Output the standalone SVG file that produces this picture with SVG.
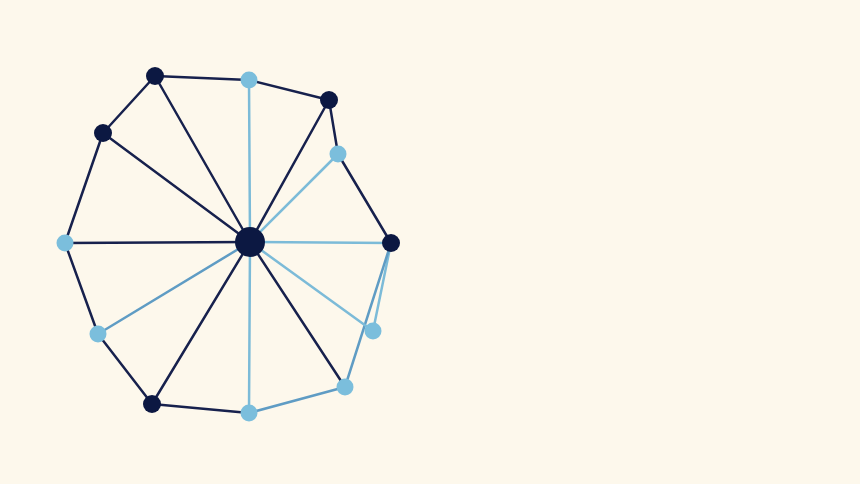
<svg xmlns="http://www.w3.org/2000/svg" width="860" height="484" viewBox="0 0 860 484">
<style>
.d{stroke:#17214d;stroke-width:2.5;stroke-linecap:round}
.l{stroke:#7cbbd8;stroke-width:2.5;stroke-linecap:round}
.m{stroke:#5f9cc4;stroke-width:2.5;stroke-linecap:round}
.nd{fill:#0c1842}
.nl{fill:#7bbedc}
</style>
<rect width="860" height="484" fill="#fdf8ec"/>
<g id="connectors">
<line class="d" x1="155" y1="76" x2="249" y2="80"/>
<line class="d" x1="249" y1="80" x2="329" y2="100"/>
<line class="d" x1="329" y1="100" x2="338" y2="154"/>
<line class="d" x1="338" y1="154" x2="391" y2="243"/>
<line class="l" x1="391" y1="243" x2="373" y2="331"/>
<line class="m" x1="391" y1="243" x2="345" y2="387"/>
<line class="m" x1="345" y1="387" x2="249" y2="413"/>
<line class="d" x1="249" y1="413" x2="152" y2="404"/>
<line class="d" x1="152" y1="404" x2="98" y2="334"/>
<line class="d" x1="98" y1="334" x2="65" y2="243"/>
<line class="d" x1="65" y1="243" x2="103" y2="133"/>
<line class="d" x1="103" y1="133" x2="155" y2="76"/>
<line class="d" x1="250" y1="242" x2="155" y2="76"/>
<line class="l" x1="250" y1="242" x2="249" y2="80"/>
<line class="d" x1="250" y1="242" x2="329" y2="100"/>
<line class="l" x1="250" y1="242" x2="338" y2="154"/>
<line class="l" x1="250" y1="242" x2="391" y2="243"/>
<line class="l" x1="250" y1="242" x2="373" y2="331"/>
<line class="d" x1="250" y1="242" x2="345" y2="387"/>
<line class="l" x1="250" y1="242" x2="249" y2="413"/>
<line class="d" x1="250" y1="242" x2="152" y2="404"/>
<line class="m" x1="250" y1="242" x2="98" y2="334"/>
<line class="d" x1="250" y1="242" x2="65" y2="243"/>
<line class="d" x1="250" y1="242" x2="103" y2="133"/>
</g>
<g id="n0"><circle class="nd" cx="250" cy="242" r="15"/></g>
<g id="n1"><circle class="nd" cx="155" cy="76" r="9"/></g>
<g id="n2"><circle class="nl" cx="249" cy="80" r="8.5"/></g>
<g id="n3"><circle class="nd" cx="329" cy="100" r="9"/></g>
<g id="n4"><circle class="nl" cx="338" cy="154" r="8.5"/></g>
<g id="n5"><circle class="nd" cx="391" cy="243" r="9"/></g>
<g id="n6"><circle class="nl" cx="373" cy="331" r="8.5"/></g>
<g id="n7"><circle class="nl" cx="345" cy="387" r="8.5"/></g>
<g id="n8"><circle class="nl" cx="249" cy="413" r="8.5"/></g>
<g id="n9"><circle class="nd" cx="152" cy="404" r="9"/></g>
<g id="n10"><circle class="nl" cx="98" cy="334" r="8.5"/></g>
<g id="n11"><circle class="nl" cx="65" cy="243" r="8.5"/></g>
<g id="n12"><circle class="nd" cx="103" cy="133" r="9"/></g>
</svg>
